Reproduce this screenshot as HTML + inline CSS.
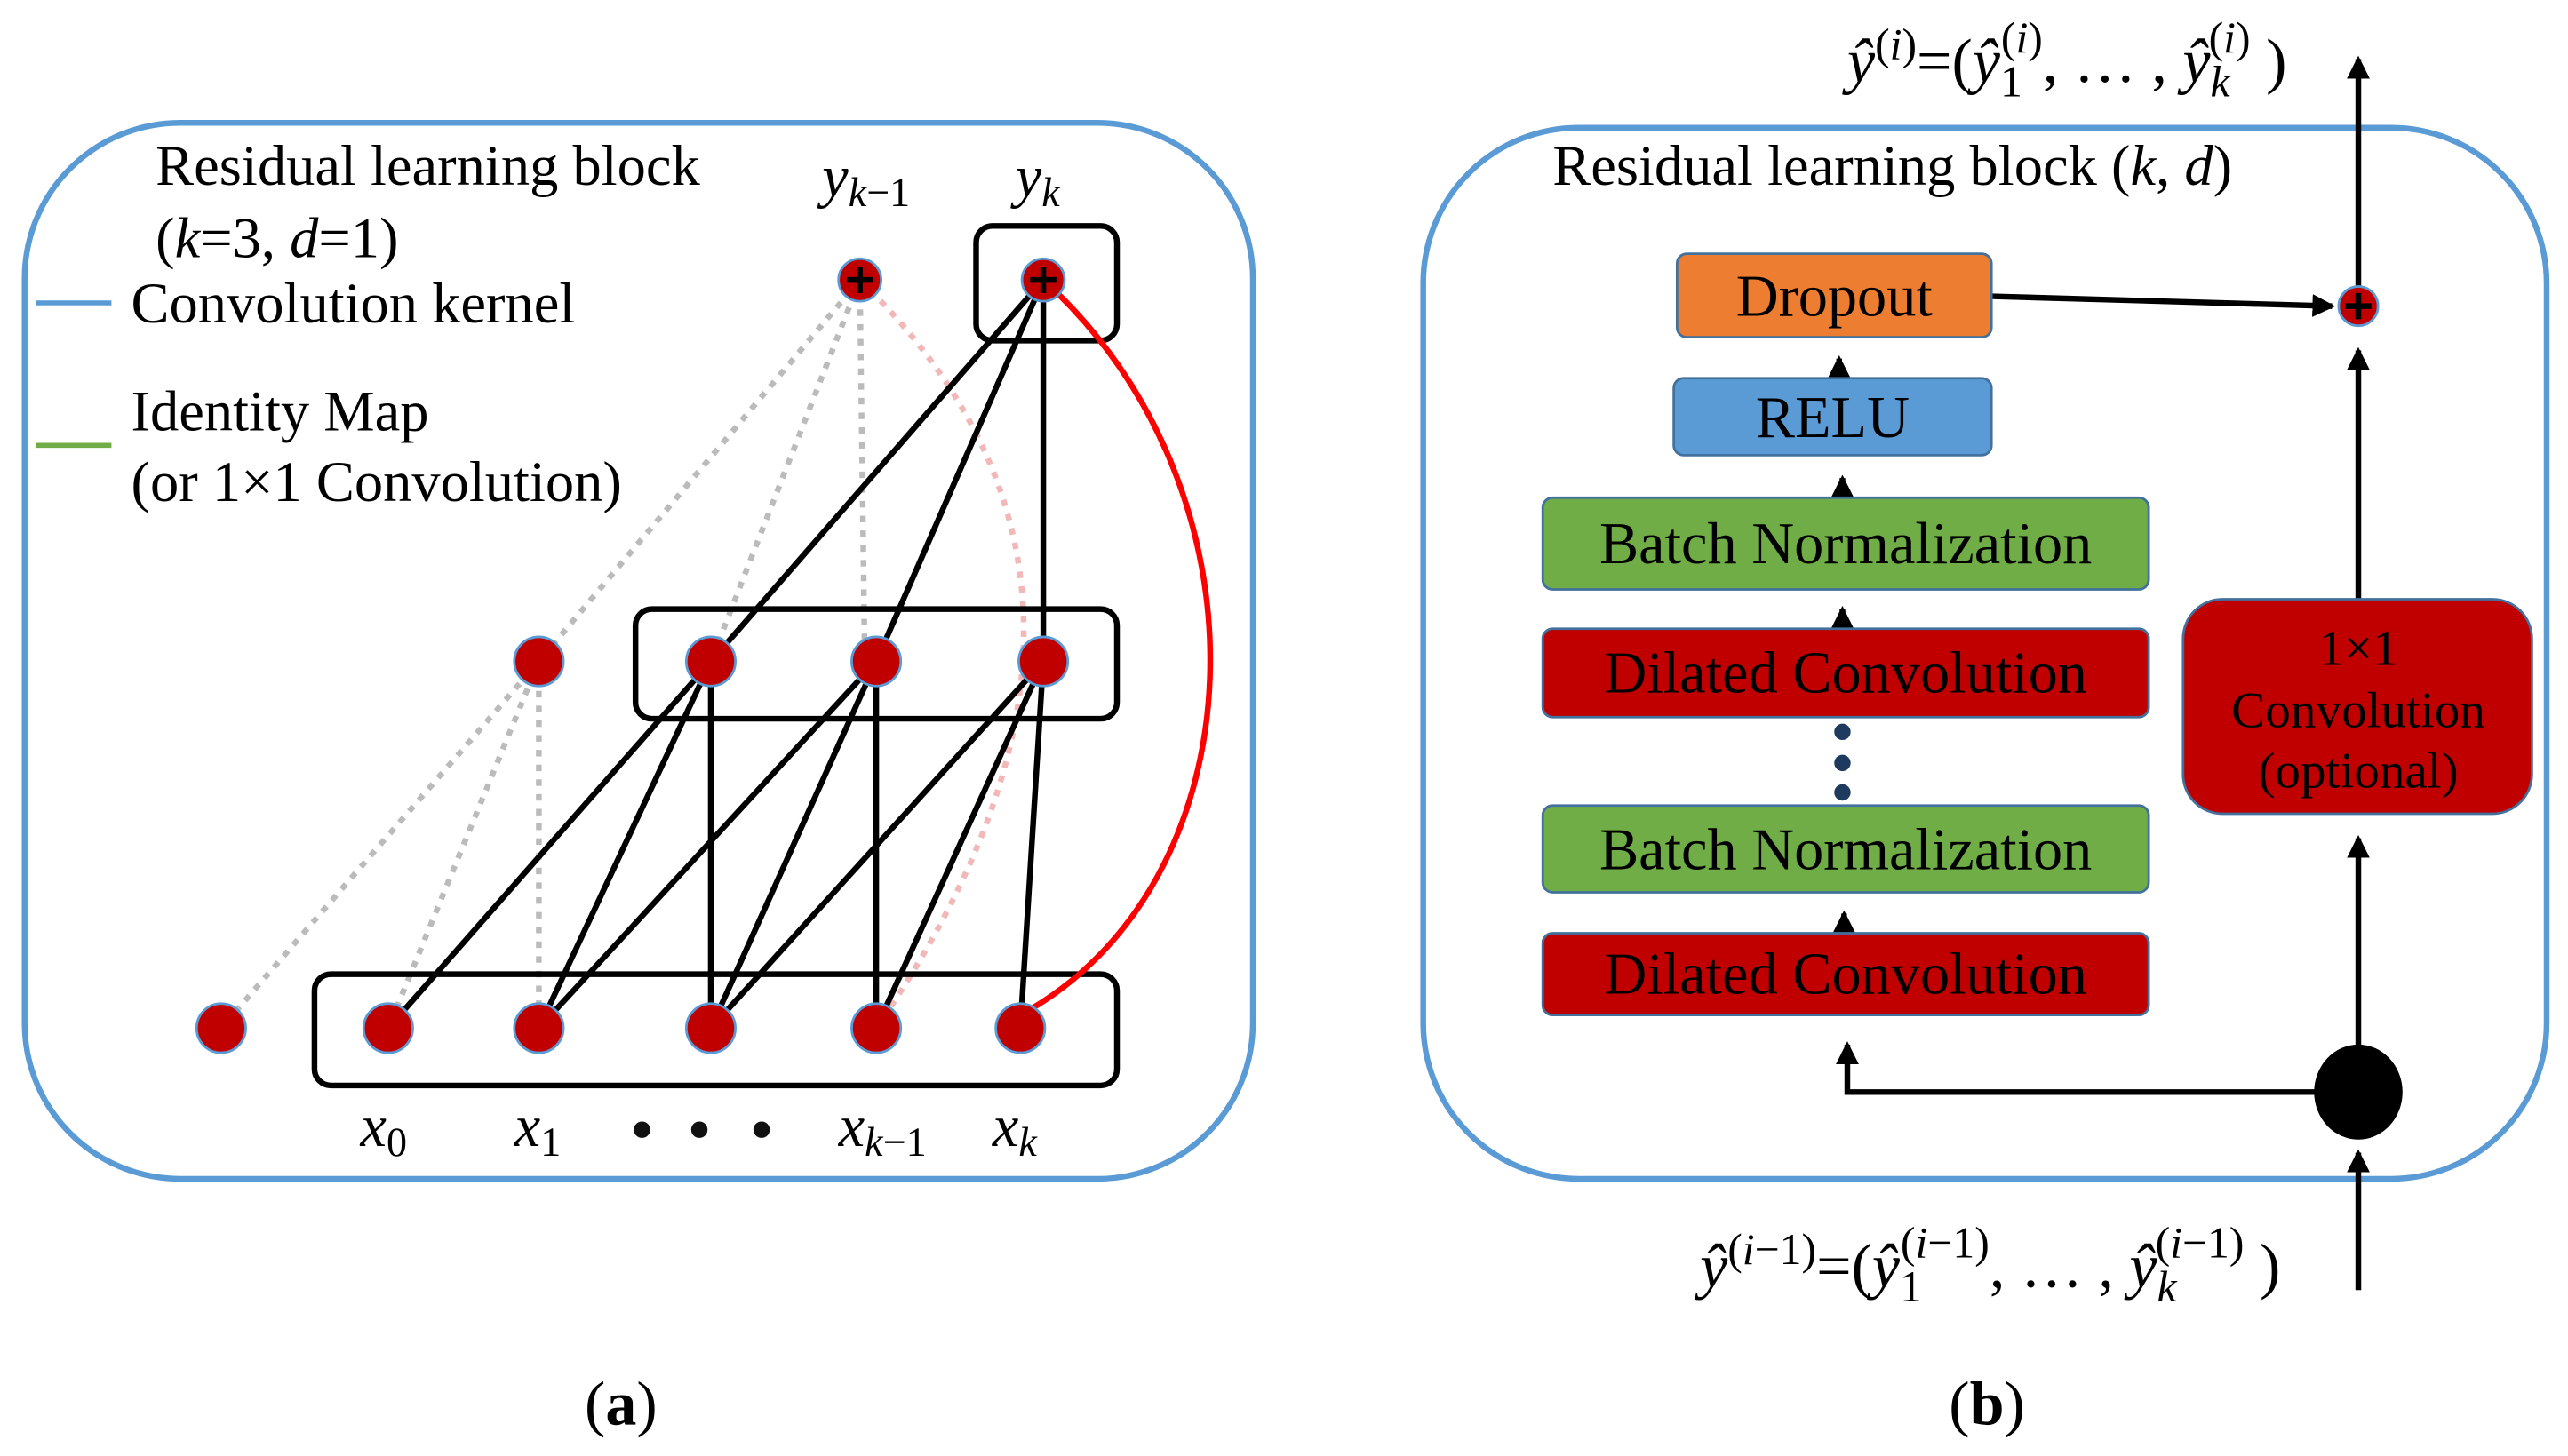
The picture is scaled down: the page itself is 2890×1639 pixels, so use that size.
<!DOCTYPE html>
<html><head><meta charset="utf-8"><style>
html,body{margin:0;padding:0;background:#fff;}
svg{display:block;}
text{font-family:"Liberation Serif","DejaVu Serif",serif;fill:#000;}
.it{font-style:italic;}
</style></head><body>
<svg width="2890" height="1639" viewBox="0 0 1568 889.3" xmlns="http://www.w3.org/2000/svg" font-family="Liberation Serif, DejaVu Serif, serif">
<defs>
<marker id="ar2" markerWidth="14" markerHeight="14" refX="12" refY="7" orient="auto" markerUnits="userSpaceOnUse">
<path d="M0,0 L14,7 L0,14 z" fill="#000"/></marker>
</defs>
<!-- LEFT PANEL -->
<rect x="15" y="75" width="750" height="645" rx="95" fill="none" stroke="#5B9BD5" stroke-width="3.5"/>
<text x="95" y="113" font-size="35">Residual learning block</text>
<text x="95" y="157" font-size="35">(<tspan class="it">k</tspan>=3, <tspan class="it">d</tspan>=1)</text>
<line x1="22" y1="185" x2="68" y2="185" stroke="#5B9BD5" stroke-width="3"/>
<text x="80" y="197" font-size="35">Convolution kernel</text>
<line x1="22" y1="272" x2="68" y2="272" stroke="#70AD47" stroke-width="3"/>
<text x="80" y="263" font-size="35">Identity Map</text>
<text x="80" y="306" font-size="35">(or 1×1 Convolution)</text>
<text x="502" y="120" font-size="36" class="it">y<tspan font-size="25" dy="6">k<tspan font-style="normal">−1</tspan></tspan></text>
<text x="620" y="120" font-size="36" class="it">y<tspan font-size="25" dy="6">k</tspan></text>
<!-- dotted gray -->
<g stroke="#bbb" stroke-width="3.5" stroke-dasharray="4,5" fill="none">
<line x1="525" y1="171" x2="329" y2="404"/>
<line x1="525" y1="171" x2="434" y2="404"/>
<line x1="525" y1="171" x2="528" y2="404"/>
<line x1="329" y1="404" x2="135" y2="628"/>
<line x1="329" y1="404" x2="237" y2="628"/>
<line x1="329" y1="404" x2="329" y2="628"/>
</g>
<path d="M525,171 Q720,360 535,628" stroke="#f2b8b8" stroke-width="3.5" stroke-dasharray="4,5" fill="none"/>
<!-- boxes -->
<rect x="596" y="138" width="86" height="70" rx="10" fill="none" stroke="#000" stroke-width="3.5"/>
<rect x="388" y="372" width="294" height="67" rx="10" fill="none" stroke="#000" stroke-width="3.5"/>
<rect x="192" y="595" width="490" height="68" rx="10" fill="none" stroke="#000" stroke-width="3.5"/>
<!-- black lines -->
<g stroke="#000" stroke-width="3.5">
<line x1="637" y1="171" x2="434" y2="404"/>
<line x1="637" y1="171" x2="535" y2="404"/>
<line x1="637" y1="171" x2="637" y2="404"/>
<line x1="434" y1="404" x2="237" y2="628"/>
<line x1="434" y1="404" x2="329" y2="628"/>
<line x1="434" y1="404" x2="434" y2="628"/>
<line x1="535" y1="404" x2="329" y2="628"/>
<line x1="535" y1="404" x2="434" y2="628"/>
<line x1="535" y1="404" x2="535" y2="628"/>
<line x1="637" y1="404" x2="434" y2="628"/>
<line x1="637" y1="404" x2="535" y2="628"/>
<line x1="637" y1="404" x2="623" y2="628"/>
</g>
<path d="M637,171 C780,300 770,540 623,620" stroke="#f00" stroke-width="3.5" fill="none"/>
<!-- nodes -->
<g fill="#C00000" stroke="#5B9BD5" stroke-width="1.5">
<circle cx="329" cy="404" r="15"/><circle cx="434" cy="404" r="15"/><circle cx="535" cy="404" r="15"/><circle cx="637" cy="404" r="15"/>
<circle cx="135" cy="628" r="15"/><circle cx="237" cy="628" r="15"/><circle cx="329" cy="628" r="15"/><circle cx="434" cy="628" r="15"/><circle cx="535" cy="628" r="15"/><circle cx="623" cy="628" r="15"/>
<circle cx="525" cy="171" r="13"/><circle cx="637" cy="171" r="13"/>
</g>
<g stroke="#000" stroke-width="3.5">
<line x1="517" y1="171" x2="533" y2="171"/><line x1="525" y1="163" x2="525" y2="179"/>
<line x1="629" y1="171" x2="645" y2="171"/><line x1="637" y1="163" x2="637" y2="179"/>
</g>
<text x="220" y="700" font-size="36" class="it">x<tspan font-size="25" dy="6" font-style="normal">0</tspan></text>
<text x="314" y="700" font-size="36" class="it">x<tspan font-size="25" dy="6" font-style="normal">1</tspan></text>
<circle cx="392" cy="690" r="5" fill="#111"/><circle cx="427" cy="690" r="5" fill="#111"/><circle cx="465" cy="690" r="5" fill="#111"/>
<text x="512" y="700" font-size="36" class="it">x<tspan font-size="25" dy="6">k<tspan font-style="normal">−1</tspan></tspan></text>
<text x="606" y="700" font-size="36" class="it">x<tspan font-size="25" dy="6">k</tspan></text>
<text x="357" y="870" font-size="38">(<tspan font-weight="bold">a</tspan>)</text>

<!-- RIGHT PANEL -->
<rect x="869" y="78" width="686" height="642" rx="95" fill="none" stroke="#5B9BD5" stroke-width="3.5"/>
<text x="948" y="113" font-size="35">Residual learning block (<tspan class="it">k</tspan>, <tspan class="it">d</tspan>)</text>
<text x="1128" y="50" font-size="38"><tspan class="it">ŷ</tspan><tspan font-size="27" dy="-14">(<tspan class="it">i</tspan>)</tspan><tspan dy="14">=(</tspan><tspan class="it">ŷ</tspan><tspan font-size="27" dy="9">1</tspan><tspan font-size="27" dx="-13" dy="-27">(<tspan class="it">i</tspan>)</tspan><tspan dy="18">, … , </tspan><tspan class="it">ŷ</tspan><tspan font-size="27" class="it" dy="9">k</tspan><tspan font-size="27" dx="-13" dy="-27">(<tspan class="it">i</tspan>)</tspan><tspan dy="18"> )</tspan></text>
<text x="1038" y="786" font-size="38"><tspan class="it">ŷ</tspan><tspan font-size="27" dy="-14">(<tspan class="it">i</tspan>−1)</tspan><tspan dy="14">=(</tspan><tspan class="it">ŷ</tspan><tspan font-size="27" dy="9">1</tspan><tspan font-size="27" dx="-13" dy="-27">(<tspan class="it">i</tspan>−1)</tspan><tspan dy="18">, … , </tspan><tspan class="it">ŷ</tspan><tspan font-size="27" class="it" dy="9">k</tspan><tspan font-size="27" dx="-13" dy="-27">(<tspan class="it">i</tspan>−1)</tspan><tspan dy="18"> )</tspan></text>
<!-- main vertical line -->
<g stroke="#000" stroke-width="3.5" fill="none">
<line x1="1440" y1="788" x2="1440" y2="704" marker-end="url(#ar2)"/>
<line x1="1440" y1="640" x2="1440" y2="512" marker-end="url(#ar2)"/>
<line x1="1440" y1="366" x2="1440" y2="214" marker-end="url(#ar2)"/>
<line x1="1440" y1="175" x2="1440" y2="36" marker-end="url(#ar2)"/>
<line x1="1216" y1="181" x2="1424" y2="187" marker-end="url(#ar2)"/>
<polyline points="1414,667 1128,667 1128,638" marker-end="url(#ar2)"/>
<line x1="1125" y1="304" x2="1125" y2="292" marker-end="url(#ar2)"/>
<line x1="1125" y1="384" x2="1125" y2="372" marker-end="url(#ar2)"/>
<line x1="1126" y1="570" x2="1126" y2="558" marker-end="url(#ar2)"/>
<line x1="1123" y1="231" x2="1123" y2="219" marker-end="url(#ar2)"/>
</g>
<circle cx="1440" cy="187" r="12" fill="#C00000" stroke="#5B9BD5" stroke-width="1.5"/>
<g stroke="#000" stroke-width="3.5"><line x1="1432" y1="187" x2="1448" y2="187"/><line x1="1440" y1="179" x2="1440" y2="195"/></g>
<ellipse cx="1440" cy="667" rx="27" ry="29" fill="#000"/>
<!-- boxes -->
<g stroke="#41719C" stroke-width="1.5">
<rect x="1024" y="155" width="192" height="51" rx="6" fill="#ED7D31"/>
<rect x="1022" y="231" width="194" height="47" rx="6" fill="#5B9BD5"/>
<rect x="942" y="304" width="370" height="56" rx="6" fill="#70AD47"/>
<rect x="942" y="384" width="370" height="54" rx="6" fill="#C00000"/>
<rect x="942" y="492" width="370" height="53" rx="6" fill="#70AD47"/>
<rect x="942" y="570" width="370" height="50" rx="6" fill="#C00000"/>
<rect x="1333" y="366" width="213" height="131" rx="24" fill="#C00000"/>
</g>
<g font-size="36" text-anchor="middle">
<text x="1120" y="193">Dropout</text>
<text x="1119" y="267">RELU</text>
<text x="1127" y="344">Batch Normalization</text>
<text x="1127" y="423">Dilated Convolution</text>
<text x="1127" y="531">Batch Normalization</text>
<text x="1127" y="607">Dilated Convolution</text>
<text x="1440" y="406" font-size="31">1×1</text>
<text x="1440" y="444" font-size="31">Convolution</text>
<text x="1440" y="481" font-size="31">(optional)</text>
</g>
<circle cx="1125" cy="447" r="5" fill="#1f3a5f"/><circle cx="1125" cy="466" r="5" fill="#1f3a5f"/><circle cx="1125" cy="484" r="5" fill="#1f3a5f"/>
<text x="1190" y="870" font-size="38">(<tspan font-weight="bold">b</tspan>)</text>
</svg>
</body></html>
